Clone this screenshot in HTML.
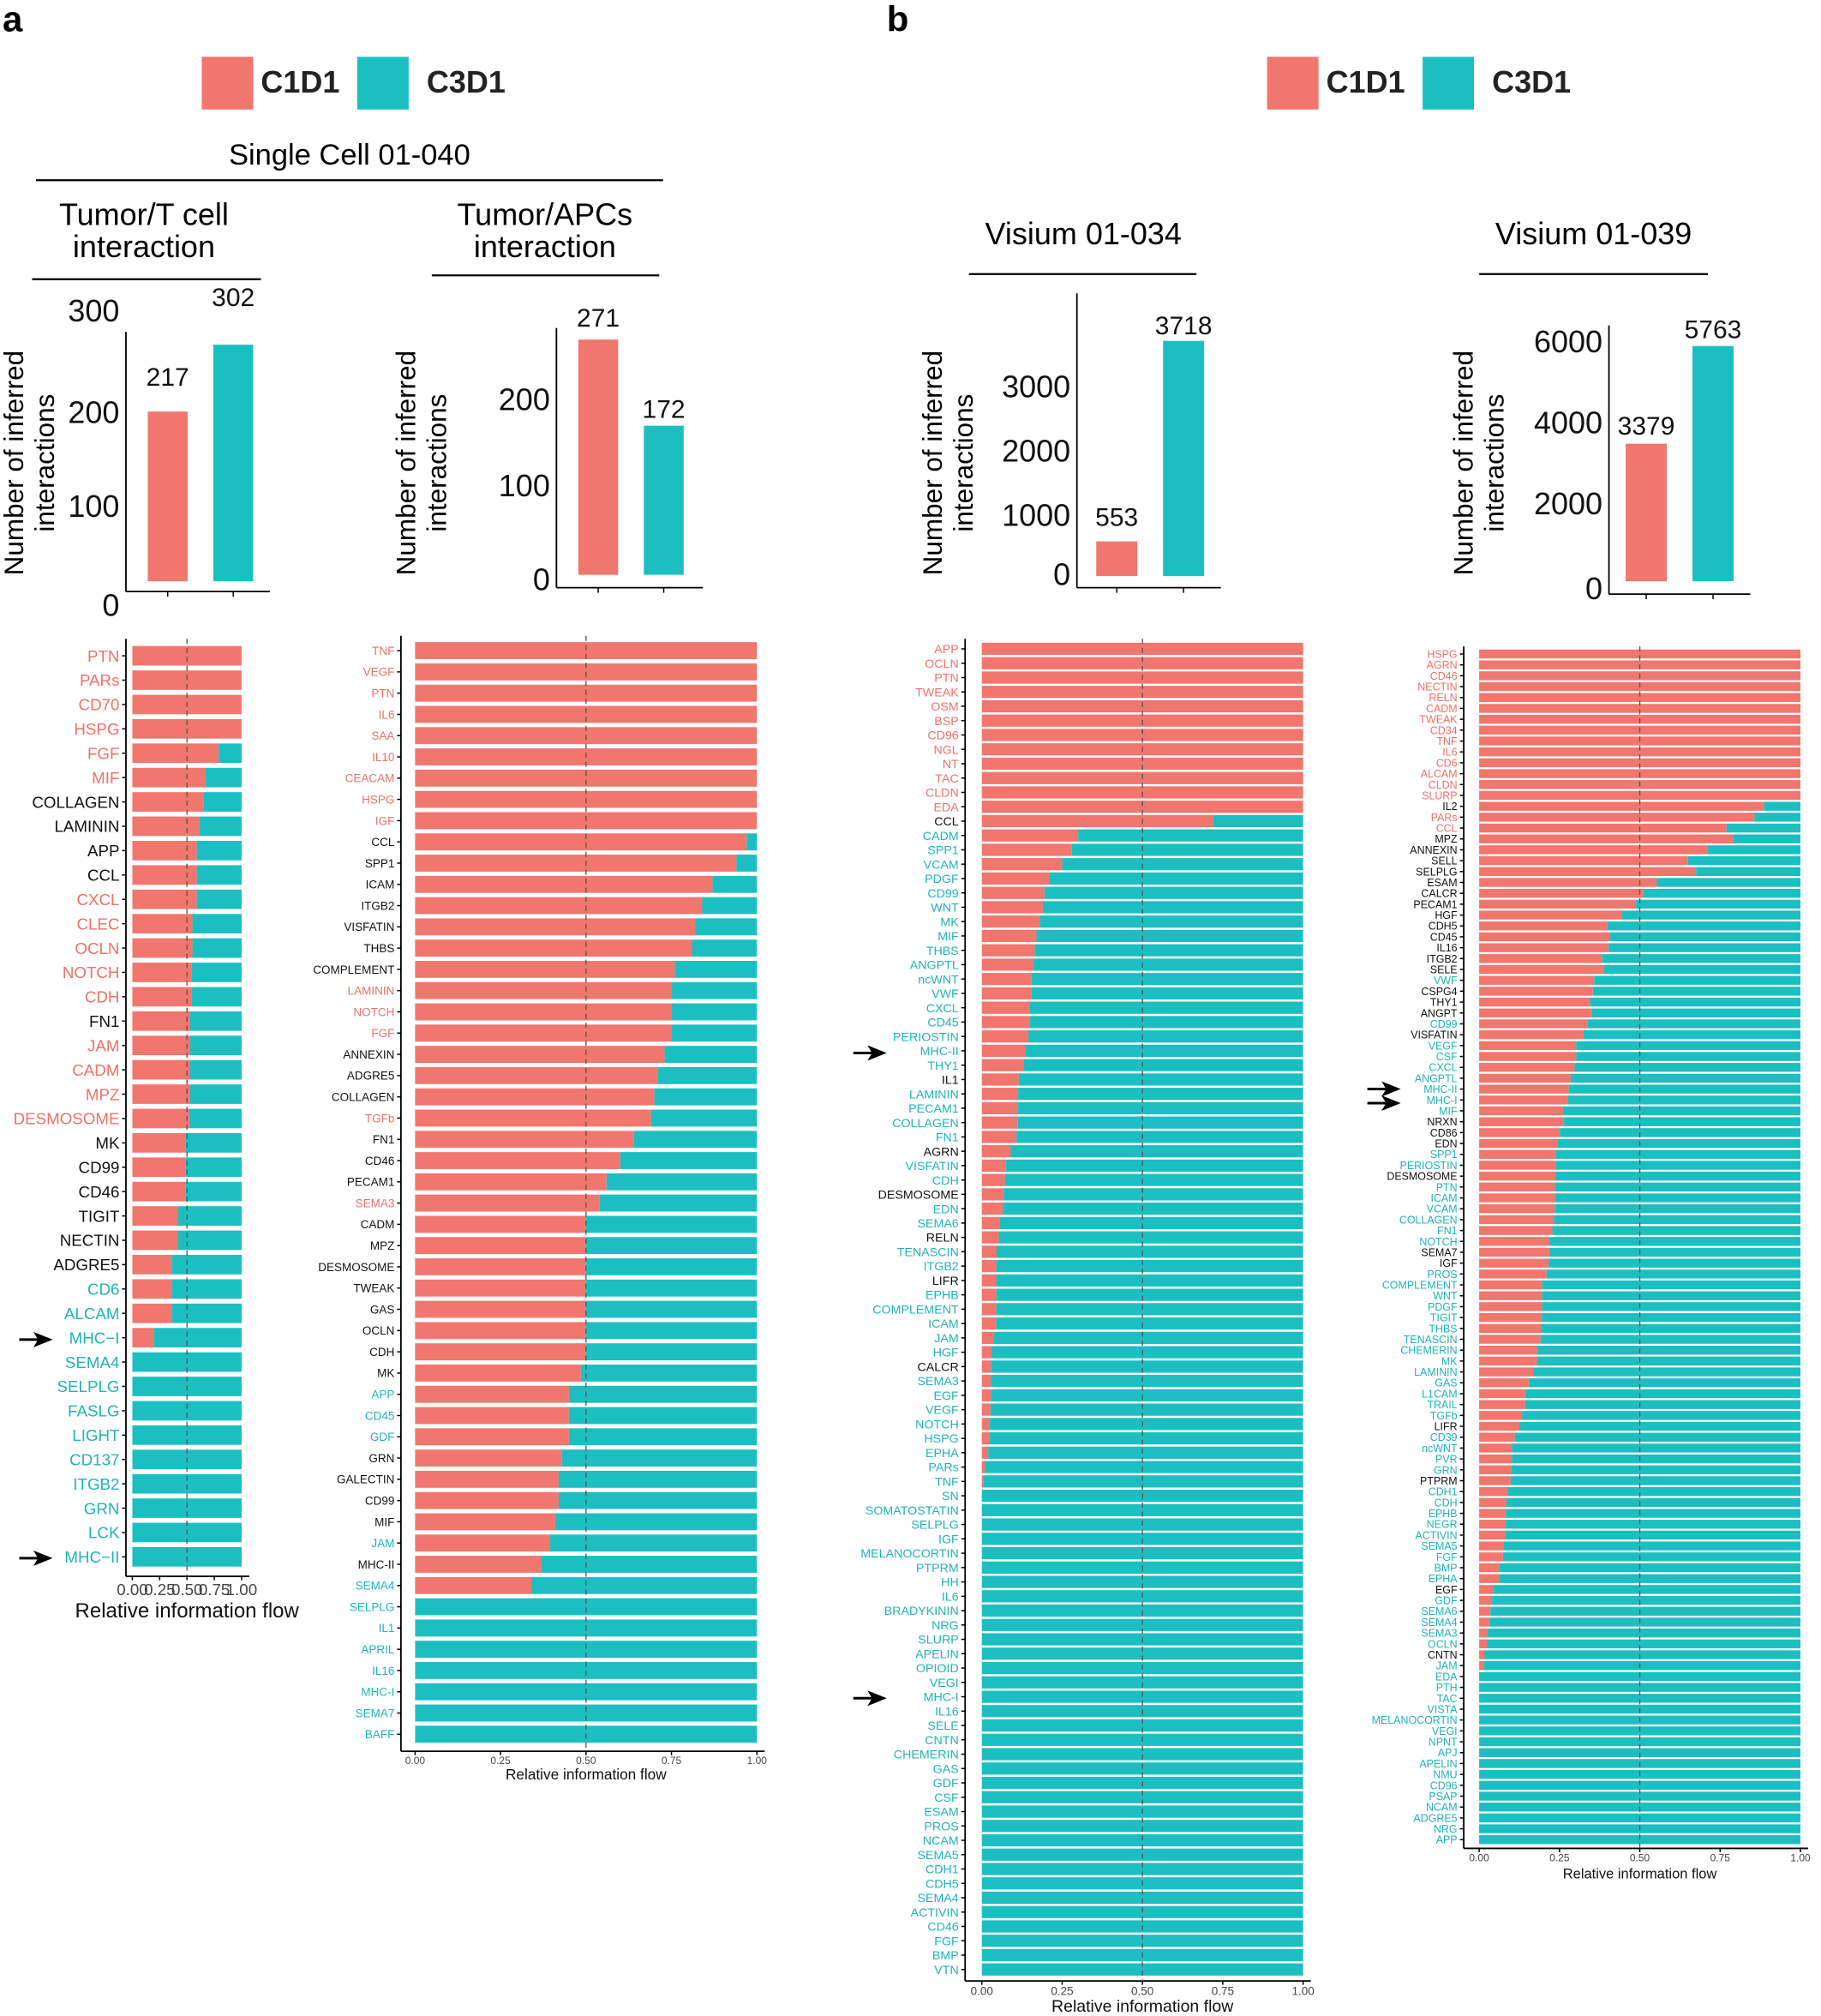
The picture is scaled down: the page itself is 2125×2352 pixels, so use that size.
<!DOCTYPE html>
<html><head><meta charset="utf-8">
<style>
html,body{margin:0;padding:0;background:#fff;}
svg{display:block;}
text{font-family:"Liberation Sans",sans-serif;}
</style></head>
<body>
<svg id="s" xmlns="http://www.w3.org/2000/svg" width="2125" height="2352" viewBox="0 0 1417 1568">
<rect width="1417" height="1568" fill="#fff"/>
<text x="2" y="24" font-size="28" font-weight="bold">a</text>
<text x="690" y="24" font-size="28" font-weight="bold">b</text>
<rect x="157" y="44" width="40" height="41" fill="#F1766E"/>
<text x="203" y="72" font-size="24" font-weight="bold" fill="#222">C1D1</text>
<rect x="278" y="44" width="40" height="41" fill="#1CBFC1"/>
<text x="332" y="72" font-size="24" font-weight="bold" fill="#222">C3D1</text>
<rect x="986" y="44" width="40" height="41" fill="#F1766E"/>
<text x="1032" y="72" font-size="24" font-weight="bold" fill="#222">C1D1</text>
<rect x="1107" y="44" width="40" height="41" fill="#1CBFC1"/>
<text x="1161" y="72" font-size="24" font-weight="bold" fill="#222">C3D1</text>
<text x="272" y="128" font-size="23" text-anchor="middle">Single Cell 01-040</text>
<line x1="28" y1="140" x2="516" y2="140" stroke="#000" stroke-width="1.5"/>
<text x="112" y="175" font-size="24" text-anchor="middle">Tumor/T cell</text>
<text x="112" y="200" font-size="24" text-anchor="middle">interaction</text>
<line x1="25" y1="217" x2="203" y2="217" stroke="#000" stroke-width="1.5"/>
<text x="424" y="175" font-size="24" text-anchor="middle">Tumor/APCs</text>
<text x="424" y="200" font-size="24" text-anchor="middle">interaction</text>
<line x1="336" y1="214" x2="513" y2="214" stroke="#000" stroke-width="1.5"/>
<text x="843" y="190" font-size="24" text-anchor="middle">Visium 01-034</text>
<line x1="754" y1="213" x2="931" y2="213" stroke="#000" stroke-width="1.5"/>
<text x="1240" y="190" font-size="24" text-anchor="middle">Visium 01-039</text>
<line x1="1151" y1="213" x2="1329" y2="213" stroke="#000" stroke-width="1.5"/>
<g id="g"></g>
</svg>
<script>
var NS="http://www.w3.org/2000/svg",G=document.getElementById("g");
function el(t,a,txt){var e=document.createElementNS(NS,t);for(var k in a)e.setAttribute(k,a[k]);if(txt!=null)e.textContent=txt;G.appendChild(e);return e;}
var R="#F1766E",C="#1CBFC1",LR="#EF7168",LC="#20B4B8",K="#111";
function bc(o){
 el("line",{x1:o.ax,y1:o.yt,x2:o.ax,y2:o.yb,stroke:"#000","stroke-width":1.2});
 el("line",{x1:o.ax,y1:o.yb,x2:o.xe,y2:o.yb,stroke:"#000","stroke-width":1.2});
 o.ticks.forEach(function(t){el("text",{x:o.ax-5,y:t[1]+9,"font-size":24,"text-anchor":"end",fill:"#111"},t[0]);});
 o.bars.forEach(function(b){el("rect",{x:b[0],y:b[1],width:b[2]-b[0],height:b[3]-b[1],fill:b[4]});
  el("text",{x:(b[0]+b[2])/2,y:b[6],"font-size":20,"text-anchor":"middle",fill:"#111"},b[5]);
  el("line",{x1:(b[0]+b[2])/2,y1:o.yb,x2:(b[0]+b[2])/2,y2:o.yb+4,stroke:"#000"});});
 el("text",{transform:"translate("+o.tx+","+o.ty+") rotate(-90)","font-size":21,"text-anchor":"middle"},"Number of inferred");
 el("text",{transform:"translate("+(o.tx+24)+","+o.ty+") rotate(-90)","font-size":21,"text-anchor":"middle"},"interactions");
}
bc({ax:98,yt:258,yb:460,xe:210,ticks:[["300",241],["200",320],["100",393],["0",470]],bars:[[115,320,146,452,R,"217",300],[166,268,197,452,C,"302",238]],tx:18,ty:360});
bc({ax:433,yt:255,yb:457,xe:547,ticks:[["200",310],["100",377],["0",450]],bars:[[450,264,481,447,R,"271",254],[501,331,532,447,C,"172",325]],tx:323,ty:360});
bc({ax:838,yt:228,yb:457,xe:950,ticks:[["3000",300],["2000",350],["1000",400],["0",446]],bars:[[853,421,885,448,R,"553",409],[905,265,937,448,C,"3718",260]],tx:733,ty:360});
bc({ax:1252,yt:253,yb:462,xe:1362,ticks:[["6000",265],["4000",328],["2000",391],["0",457]],bars:[[1265,345,1297,452,R,"3379",338],[1317,269,1349,452,C,"5763",263]],tx:1146,ty:360});
function sp(o){
 var n=o.d.length,p=(o.yl-o.y0)/(n-1);
 el("line",{x1:o.ax,y1:o.y0-p*0.7,x2:o.ax,y2:o.yl+p*0.8,stroke:"#000","stroke-width":1.2});
 el("line",{x1:o.ax,y1:o.yl+p*0.8,x2:o.x1+6,y2:o.yl+p*0.8,stroke:"#000","stroke-width":1.2});
 o.d.forEach(function(r,i){var y=o.y0+i*p,h=p*o.bh,f=r[1];
  if(f>0)el("rect",{x:o.x0,y:y-h/2,width:(o.x1-o.x0)*f,height:h,fill:R});
  if(f<1)el("rect",{x:o.x0+(o.x1-o.x0)*f,y:y-h/2,width:(o.x1-o.x0)*(1-f),height:h,fill:C});
  el("line",{x1:o.ax-3,y1:y,x2:o.ax,y2:y,stroke:"#000"});
  el("text",{x:o.ax-5,y:y+o.fs*0.36,"font-size":o.fs,"text-anchor":"end",fill:r[2]=="r"?LR:r[2]=="c"?LC:K},r[0]);});
 var xm=(o.x0+o.x1)/2;
 el("line",{x1:xm,y1:o.y0-p*0.7,x2:xm,y2:o.yl+p*0.8,stroke:"#555","stroke-dasharray":"4,3","stroke-width":0.9});
 var yb=o.yl+p*0.8;
 [0,.25,.5,.75,1].forEach(function(t,i){var x=o.x0+(o.x1-o.x0)*t;el("line",{x1:x,y1:yb,x2:x,y2:yb+3,stroke:"#000"});
  el("text",{x:x,y:yb+o.tf+2,"font-size":o.tf,"text-anchor":"middle",fill:"#444"},["0.00","0.25","0.50","0.75","1.00"][i]);});
 el("text",{x:xm,y:o.tyy,"font-size":o.tsz,"text-anchor":"middle",fill:"#111"},"Relative information flow");
}
function P(s){return s.split(",").map(function(x){var a=x.split(":");return [a[0],a[1]===undefined?0:parseFloat(a[1]),a[2]||"c"];});}
sp({x0:103,x1:188,ax:98,y0:510,yl:1211,bh:0.8,fs:12.5,tf:12.5,tsz:16,tyy:1258,d:P("PTN:1:r,PARs:1:r,CD70:1:r,HSPG:1:r,FGF:.79:r,MIF:.67:r,COLLAGEN:.65:k,LAMININ:.61:k,APP:.59:k,CCL:.59:k,CXCL:.59:r,CLEC:.55:r,OCLN:.55:r,NOTCH:.54:r,CDH:.54:r,FN1:.53:k,JAM:.53:r,CADM:.53:r,MPZ:.53:r,DESMOSOME:.52:r,MK:.49:k,CD99:.49:k,CD46:.49:k,TIGIT:.42:k,NECTIN:.42:k,ADGRE5:.36:k,CD6:.36,ALCAM:.36,MHC−I:.2,SEMA4,SELPLG,FASLG,LIGHT,CD137,ITGB2,GRN,LCK,MHC−II")});
sp({x0:323,x1:589,ax:312,y0:506,yl:1349,bh:0.8,fs:9,tf:8,tsz:11.5,tyy:1384,d:P("TNF:1:r,VEGF:1:r,PTN:1:r,IL6:1:r,SAA:1:r,IL10:1:r,CEACAM:1:r,HSPG:1:r,IGF:1:r,CCL:.97:k,SPP1:.94:k,ICAM:.87:k,ITGB2:.84:k,VISFATIN:.82:k,THBS:.81:k,COMPLEMENT:.76:k,LAMININ:.75:r,NOTCH:.75:r,FGF:.75:r,ANNEXIN:.73:k,ADGRE5:.71:k,COLLAGEN:.70:k,TGFb:.69:r,FN1:.64:k,CD46:.60:k,PECAM1:.56:k,SEMA3:.54:r,CADM:.50:k,MPZ:.50:k,DESMOSOME:.50:k,TWEAK:.50:k,GAS:.50:k,OCLN:.50:k,CDH:.50:k,MK:.485:k,APP:.45,CD45:.45,GDF:.45,GRN:.43:k,GALECTIN:.42:k,CD99:.42:k,MIF:.41:k,JAM:.395,MHC-II:.37:k,SEMA4:.34,SELPLG,IL1,APRIL,IL16,MHC-I,SEMA7,BAFF")});
sp({x0:764,x1:1014,ax:751,y0:504.6,yl:1532,bh:0.85,fs:9.5,tf:9,tsz:13,tyy:1565,d:P("APP:1:r,OCLN:1:r,PTN:1:r,TWEAK:1:r,OSM:1:r,BSP:1:r,CD96:1:r,NGL:1:r,NT:1:r,TAC:1:r,CLDN:1:r,EDA:1:r,CCL:.72:k,CADM:.30,SPP1:.28,VCAM:.25,PDGF:.21,CD99:.195,WNT:.19,MK:.18,MIF:.17,THBS:.165,ANGPTL:.16,ncWNT:.155,VWF:.155,CXCL:.15,CD45:.15,PERIOSTIN:.145,MHC-II:.135,THY1:.13,IL1:.115:k,LAMININ:.113,PECAM1:.113,COLLAGEN:.112,FN1:.108,AGRN:.09:k,VISFATIN:.075,CDH:.072,DESMOSOME:.068:k,EDN:.066,SEMA6:.055,RELN:.053:k,TENASCIN:.046,ITGB2:.045,LIFR:.045:k,EPHB:.045,COMPLEMENT:.045,ICAM:.045,JAM:.037,HGF:.03,CALCR:.028:k,SEMA3:.028,EGF:.028,VEGF:.027,NOTCH:.024,HSPG:.023,EPHA:.02,PARs:.01,TNF:.005,SN,SOMATOSTATIN,SELPLG,IGF,MELANOCORTIN,PTPRM,HH,IL6,BRADYKININ,NRG,SLURP,APELIN,OPIOID,VEGI,MHC-I,IL16,SELE,CNTN,CHEMERIN,GAS,GDF,CSF,ESAM,PROS,NCAM,SEMA5,CDH1,CDH5,SEMA4,ACTIVIN,CD46,FGF,BMP,VTN")});
sp({x0:1151,x1:1401,ax:1139,y0:508.6,yl:1431,bh:0.82,fs:8.3,tf:8,tsz:11,tyy:1461,d:P("HSPG:1:r,AGRN:1:r,CD46:1:r,NECTIN:1:r,RELN:1:r,CADM:1:r,TWEAK:1:r,CD34:1:r,TNF:1:r,IL6:1:r,CD6:1:r,ALCAM:1:r,CLDN:1:r,SLURP:1:r,IL2:.887:k,PARs:.857:r,CCL:.77:r,MPZ:.79:k,ANNEXIN:.71:k,SELL:.65:k,SELPLG:.675:k,ESAM:.553:k,CALCR:.512:k,PECAM1:.488:k,HGF:.444:k,CDH5:.40:k,CD45:.408:k,IL16:.403:k,ITGB2:.383:k,SELE:.388:k,VWF:.358,CSPG4:.354:k,THY1:.345:k,ANGPT:.35:k,CD99:.338,VISFATIN:.324:k,VEGF:.302,CSF:.302,CXCL:.297,ANGPTL:.285,MHC-II:.279,MHC-I:.277,MIF:.261,NRXN:.264:k,CD86:.251:k,EDN:.244:k,SPP1:.238,PERIOSTIN:.238,DESMOSOME:.237:k,PTN:.236,ICAM:.236,VCAM:.235,COLLAGEN:.233,FN1:.228,NOTCH:.218,SEMA7:.218:k,IGF:.216:k,PROS:.21,COMPLEMENT:.196,WNT:.196,PDGF:.196,TIGIT:.195,THBS:.193,TENASCIN:.191,CHEMERIN:.18,MK:.18,LAMININ:.168,GAS:.154,L1CAM:.143,TRAIL:.143,TGFb:.134,LIFR:.125:k,CD39:.111,ncWNT:.102,PVR:.102,GRN:.1,PTPRM:.098:k,CDH1:.088,CDH:.085,EPHB:.083,NEGR:.083,ACTIVIN:.081,SEMA5:.075,FGF:.074,BMP:.063,EPHA:.062,EGF:.043:k,GDF:.04,SEMA6:.035,SEMA4:.031,SEMA3:.025,OCLN:.024,CNTN:.017:k,JAM:.014,EDA,PTH,TAC,VISTA,MELANOCORTIN,VEGI,NPNT,APJ,APELIN,NMU,CD96,PSAP,NCAM,ADGRE5,NRG,APP")});
function arr(x,y){el("path",{d:"M"+x+" "+(y-1)+"L"+(x+14)+" "+(y-1)+"L"+(x+11)+" "+(y-6)+"L"+(x+26)+" "+y+"L"+(x+11)+" "+(y+6)+"L"+(x+14)+" "+(y+1)+"L"+x+" "+(y+1)+"Z",fill:"#000"});}
arr(15,1042);arr(15,1212);arr(664,819);arr(664,1321);arr(1064,847);arr(1064,858);
</script>
</body></html>
